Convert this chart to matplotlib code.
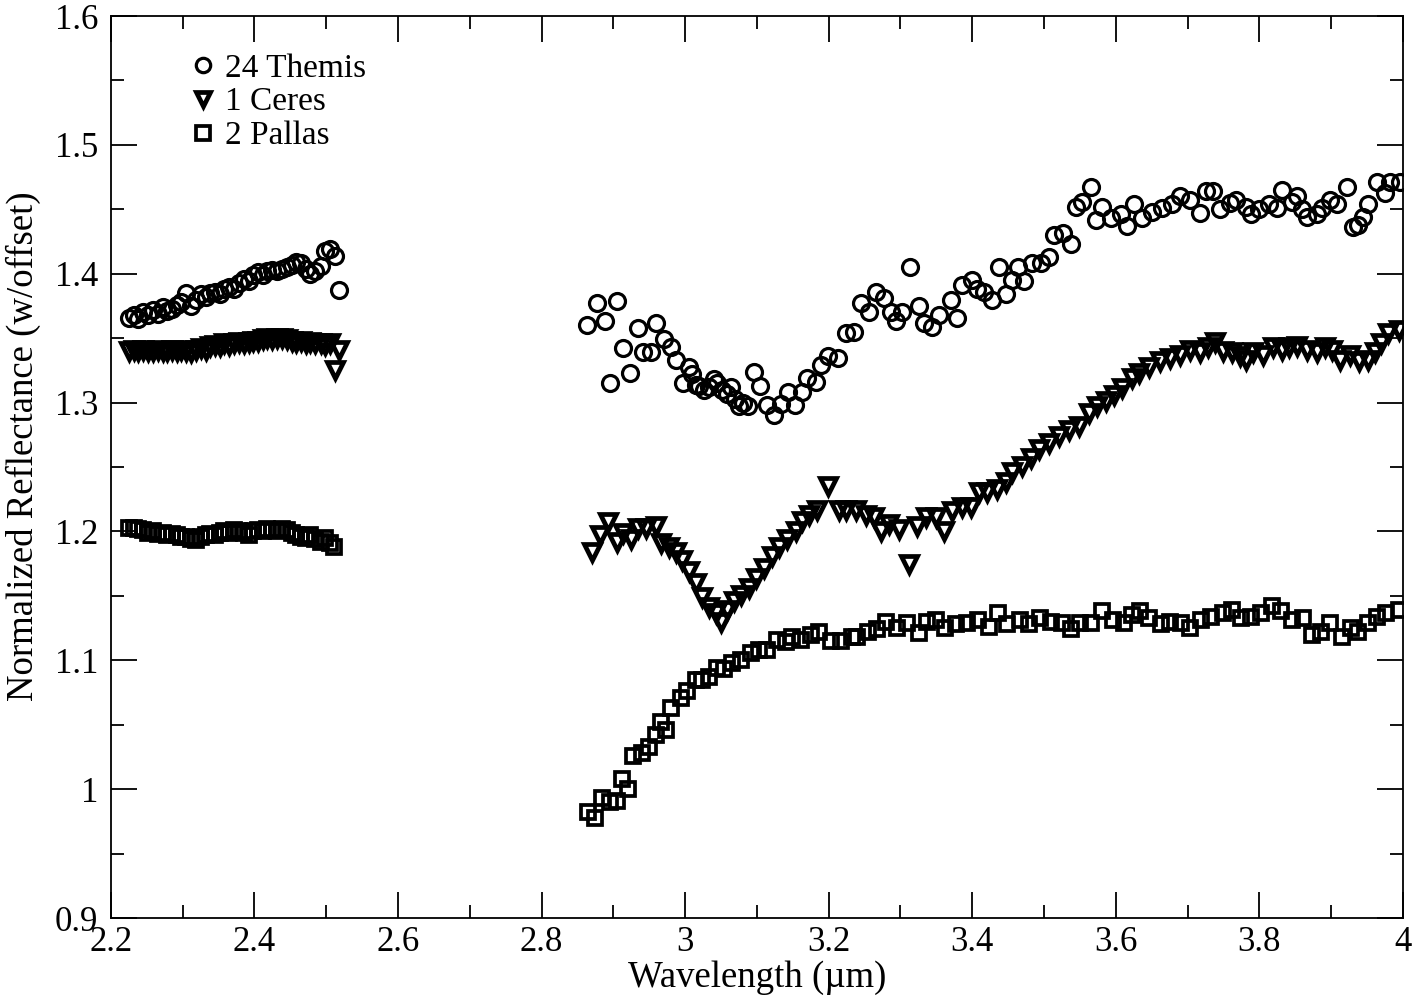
import matplotlib
matplotlib.use("Agg")
import matplotlib.pyplot as plt
from matplotlib.ticker import MultipleLocator, FuncFormatter

plt.rcParams['font.family'] = ['Liberation Serif', 'DejaVu Serif']

# ---------------- data ----------------
# left segment wavelengths (um)
x_left = [2.225, 2.232, 2.238, 2.245, 2.252, 2.258, 2.265, 2.272, 2.278, 2.285,
          2.292, 2.298, 2.305, 2.312, 2.318, 2.325, 2.332, 2.338, 2.345, 2.352,
          2.358, 2.365, 2.372, 2.378, 2.385, 2.392, 2.398, 2.405, 2.412, 2.418,
          2.425, 2.432, 2.438, 2.445, 2.452, 2.458, 2.465, 2.472, 2.478, 2.485,
          2.492, 2.498, 2.505, 2.512, 2.518]

themis_left = [1.366, 1.368, 1.365, 1.370, 1.368, 1.372, 1.369, 1.374, 1.371, 1.373,
               1.376, 1.378, 1.385, 1.375, 1.380, 1.384, 1.382, 1.385, 1.386, 1.384,
               1.388, 1.390, 1.388, 1.393, 1.396, 1.394, 1.399, 1.401, 1.399, 1.402,
               1.403, 1.402, 1.404, 1.405, 1.407, 1.409, 1.408, 1.404, 1.400, 1.402,
               1.406, 1.418, 1.419, 1.414, 1.387]

ceres_left = [1.340, 1.341, 1.340, 1.341, 1.340, 1.340, 1.341, 1.340, 1.340, 1.341,
              1.340, 1.341, 1.340, 1.339, 1.341, 1.342, 1.341, 1.344, 1.345, 1.344,
              1.346, 1.345, 1.346, 1.347, 1.346, 1.347, 1.348, 1.348, 1.349, 1.350,
              1.349, 1.350, 1.350, 1.349, 1.348, 1.347, 1.348, 1.346, 1.347, 1.346,
              1.346, 1.345, 1.346, 1.325, 1.341]

x_pallas_left = [2.225, 2.232, 2.238, 2.245, 2.252, 2.258, 2.265, 2.272, 2.278, 2.285,
                 2.292, 2.298, 2.305, 2.312, 2.318, 2.325, 2.332, 2.338, 2.345, 2.352,
                 2.358, 2.365, 2.372, 2.378, 2.385, 2.392, 2.398, 2.405, 2.412, 2.418,
                 2.425, 2.432, 2.438, 2.445, 2.452, 2.458, 2.465, 2.472, 2.478, 2.485,
                 2.492, 2.498, 2.505, 2.511]
pallas_left = [1.203, 1.203, 1.202, 1.201, 1.199, 1.200, 1.198, 1.199, 1.197, 1.198,
               1.197, 1.196, 1.196, 1.194, 1.193, 1.196, 1.197, 1.198, 1.197, 1.199,
               1.200, 1.199, 1.201, 1.200, 1.199, 1.197, 1.200, 1.201, 1.200, 1.202,
               1.201, 1.200, 1.202, 1.201, 1.199, 1.197, 1.196, 1.195, 1.197, 1.194,
               1.192, 1.195, 1.191, 1.188]

# right segment
x_themis_right = [2.863, 2.877, 2.888, 2.896, 2.905, 2.914, 2.923, 2.934, 2.942, 2.953,
                  2.960, 2.970, 2.981, 2.987, 2.997, 3.005, 3.010, 3.015, 3.020, 3.026,
                  3.033, 3.040, 3.045, 3.051, 3.058, 3.064, 3.069, 3.075, 3.080, 3.087,
                  3.096, 3.105, 3.114, 3.124, 3.133, 3.143, 3.153, 3.163, 3.170, 3.182,
                  3.189, 3.199, 3.213, 3.224, 3.235, 3.245, 3.256, 3.266, 3.277, 3.287,
                  3.294, 3.302, 3.313, 3.326, 3.333, 3.344, 3.354, 3.371, 3.379, 3.386,
                  3.400, 3.406, 3.417, 3.428, 3.438, 3.447, 3.456, 3.464, 3.472, 3.484,
                  3.496, 3.507, 3.514, 3.526, 3.538, 3.545, 3.553, 3.565, 3.573, 3.581,
                  3.594, 3.608, 3.616, 3.626, 3.637, 3.650, 3.664, 3.678, 3.689, 3.703,
                  3.717, 3.726, 3.735, 3.745, 3.759, 3.768, 3.782, 3.789, 3.800, 3.814,
                  3.825, 3.832, 3.845, 3.853, 3.860, 3.867, 3.880, 3.888, 3.898, 3.908,
                  3.922, 3.930, 3.937, 3.944, 3.951, 3.964, 3.975, 3.982, 3.996]
themis_right = [1.360, 1.377, 1.363, 1.315, 1.379, 1.342, 1.323, 1.358, 1.339, 1.339,
                1.362, 1.349, 1.343, 1.333, 1.315, 1.328, 1.322, 1.314, 1.313, 1.310,
                1.312, 1.318, 1.315, 1.310, 1.307, 1.312, 1.303, 1.297, 1.300, 1.297,
                1.324, 1.313, 1.298, 1.290, 1.299, 1.308, 1.298, 1.308, 1.319, 1.316,
                1.329, 1.336, 1.335, 1.354, 1.355, 1.377, 1.370, 1.386, 1.381, 1.370,
                1.363, 1.370, 1.405, 1.375, 1.362, 1.359, 1.368, 1.380, 1.366, 1.391,
                1.395, 1.388, 1.386, 1.380, 1.405, 1.384, 1.395, 1.405, 1.394, 1.408,
                1.408, 1.413, 1.430, 1.432, 1.423, 1.452, 1.456, 1.467, 1.442, 1.452,
                1.443, 1.446, 1.437, 1.454, 1.443, 1.448, 1.451, 1.454, 1.460, 1.457,
                1.447, 1.464, 1.464, 1.450, 1.455, 1.457, 1.452, 1.446, 1.450, 1.454,
                1.451, 1.465, 1.456, 1.460, 1.450, 1.444, 1.446, 1.451, 1.457, 1.454,
                1.467, 1.436, 1.438, 1.444, 1.454, 1.471, 1.463, 1.471, 1.471]

x_ceres_right = [2.870, 2.882, 2.893, 2.905, 2.914, 2.924, 2.935, 2.946, 2.959, 2.966,
                 2.977, 2.987, 2.995, 3.005, 3.015, 3.023, 3.033, 3.043, 3.050, 3.058,
                 3.068, 3.078, 3.089, 3.099, 3.110, 3.121, 3.131, 3.142, 3.154, 3.163,
                 3.173, 3.184, 3.199, 3.214, 3.224, 3.238, 3.252, 3.263, 3.273, 3.284,
                 3.298, 3.312, 3.323, 3.336, 3.350, 3.361, 3.372, 3.386, 3.399, 3.410,
                 3.421, 3.434, 3.447, 3.456, 3.470, 3.482, 3.493, 3.507, 3.521, 3.535,
                 3.549, 3.563, 3.574, 3.587, 3.598, 3.609, 3.623, 3.633, 3.647, 3.661,
                 3.675, 3.689, 3.703, 3.717, 3.728, 3.738, 3.749, 3.762, 3.773, 3.782,
                 3.791, 3.805, 3.819, 3.831, 3.842, 3.853, 3.866, 3.880, 3.891, 3.902,
                 3.913, 3.927, 3.939, 3.952, 3.961, 3.970, 3.980, 3.994]
ceres_right = [1.184, 1.197, 1.207, 1.192, 1.199, 1.194, 1.203, 1.203, 1.204, 1.191,
               1.188, 1.184, 1.178, 1.169, 1.160, 1.149, 1.141, 1.137, 1.130, 1.139,
               1.146, 1.151, 1.156, 1.164, 1.172, 1.181, 1.188, 1.194, 1.200, 1.208,
               1.213, 1.217, 1.235, 1.217, 1.217, 1.217, 1.213, 1.211, 1.200, 1.206,
               1.202, 1.175, 1.204, 1.211, 1.211, 1.200, 1.216, 1.219, 1.219, 1.231,
               1.231, 1.233, 1.238, 1.246, 1.251, 1.257, 1.264, 1.269, 1.274, 1.279,
               1.282, 1.292, 1.297, 1.301, 1.306, 1.311, 1.319, 1.323, 1.328, 1.332,
               1.335, 1.337, 1.341, 1.339, 1.343, 1.347, 1.340, 1.339, 1.336, 1.333,
               1.339, 1.337, 1.343, 1.341, 1.343, 1.344, 1.341, 1.339, 1.343, 1.341,
               1.333, 1.337, 1.332, 1.333, 1.339, 1.346, 1.354, 1.356]

x_pallas_right = [2.865, 2.875, 2.884, 2.895, 2.905, 2.912, 2.920, 2.928, 2.940, 2.949,
                  2.959, 2.966, 2.973, 2.981, 2.994, 3.002, 3.015, 3.023, 3.033, 3.044,
                  3.054, 3.065, 3.078, 3.092, 3.103, 3.114, 3.128, 3.140, 3.149, 3.161,
                  3.175, 3.186, 3.203, 3.217, 3.233, 3.240, 3.255, 3.268, 3.280, 3.295,
                  3.309, 3.326, 3.337, 3.349, 3.362, 3.378, 3.393, 3.408, 3.423, 3.436,
                  3.449, 3.466, 3.479, 3.494, 3.510, 3.525, 3.538, 3.550, 3.566, 3.581,
                  3.596, 3.612, 3.622, 3.634, 3.647, 3.663, 3.675, 3.691, 3.703, 3.719,
                  3.733, 3.749, 3.762, 3.774, 3.789, 3.802, 3.818, 3.830, 3.846, 3.861,
                  3.874, 3.886, 3.899, 3.915, 3.928, 3.938, 3.951, 3.964, 3.976, 3.994]
pallas_right = [0.982, 0.978, 0.993, 0.990, 0.991, 1.008, 1.000, 1.026, 1.028, 1.033,
                1.042, 1.052, 1.046, 1.063, 1.071, 1.076, 1.085, 1.085, 1.087, 1.094,
                1.093, 1.098, 1.100, 1.106, 1.108, 1.108, 1.116, 1.114, 1.118, 1.116,
                1.120, 1.122, 1.115, 1.115, 1.118, 1.118, 1.122, 1.124, 1.130, 1.125,
                1.129, 1.121, 1.130, 1.131, 1.125, 1.128, 1.129, 1.131, 1.126, 1.137,
                1.128, 1.131, 1.128, 1.133, 1.130, 1.129, 1.124, 1.129, 1.129, 1.138,
                1.131, 1.129, 1.135, 1.138, 1.133, 1.128, 1.130, 1.129, 1.125, 1.131,
                1.134, 1.137, 1.139, 1.133, 1.134, 1.137, 1.142, 1.138, 1.131, 1.133,
                1.120, 1.122, 1.129, 1.118, 1.125, 1.122, 1.129, 1.134, 1.137, 1.139]

labels = ['24 Themis', '1 Ceres', '2 Pallas']
x_ticks = [2.2, 2.4, 2.6, 2.8, 3.0, 3.2, 3.4, 3.6, 3.8, 4.0]
y_ticks = [0.9, 1.0, 1.1, 1.2, 1.3, 1.4, 1.5, 1.6]

# ---------------- figure ----------------
fig = plt.figure(figsize=(14.17, 10.02), dpi=100)
ax = fig.add_axes([0.0783, 0.0838, 0.9117, 0.9002])

mk = dict(linestyle='none', markerfacecolor='none', markeredgecolor='black')

ax.plot(x_left + x_themis_right, themis_left + themis_right, marker='o', markersize=11.5,
        markeredgewidth=2.3, label=labels[0], **mk)
ax.plot(x_left + x_ceres_right, ceres_left + ceres_right, marker='v', markersize=11.5,
        markeredgewidth=3.4, label=labels[1], **mk)
ax.plot(x_pallas_left + x_pallas_right, pallas_left + pallas_right, marker='s', markersize=10.5,
        markeredgewidth=2.7, label=labels[2], **mk)

ax.set_xlim(2.2, 4.0)
ax.set_ylim(0.9, 1.6)
ax.set_xticks(x_ticks)
ax.set_yticks(y_ticks)
ax.xaxis.set_minor_locator(MultipleLocator(0.1))
ax.yaxis.set_minor_locator(MultipleLocator(0.05))

def fmt(v, pos):
    s = ('%.1f' % v)
    if s.endswith('.0'):
        s = s[:-2]
    return s

ax.xaxis.set_major_formatter(FuncFormatter(fmt))
ax.yaxis.set_major_formatter(FuncFormatter(fmt))

ax.tick_params(which='both', direction='in', top=True, right=True, width=1.3, labelsize=25)
ax.tick_params(which='major', length=19)
ax.tick_params(which='minor', length=9.5)
ax.tick_params(axis='x', pad=6)
ax.tick_params(axis='y', pad=9)
for sp in ax.spines.values():
    sp.set_linewidth(1.3)

ax.set_xlabel('Wavelength (µm)', fontsize=26.5)
ax.set_ylabel('Normalized Reflectance (w/offset)', fontsize=26.5)
ax.xaxis.set_label_coords(0.5, -0.047)
ax.yaxis.set_label_coords(-0.054, 0.523)

leg = ax.legend(loc='upper left', bbox_to_anchor=(0.061, 0.959), frameon=False, fontsize=24,
                handlelength=0.8, handletextpad=0.25, labelspacing=0.1, borderpad=0,
                borderaxespad=0, markerscale=0.9)

fig.savefig('out.png', dpi=100)
